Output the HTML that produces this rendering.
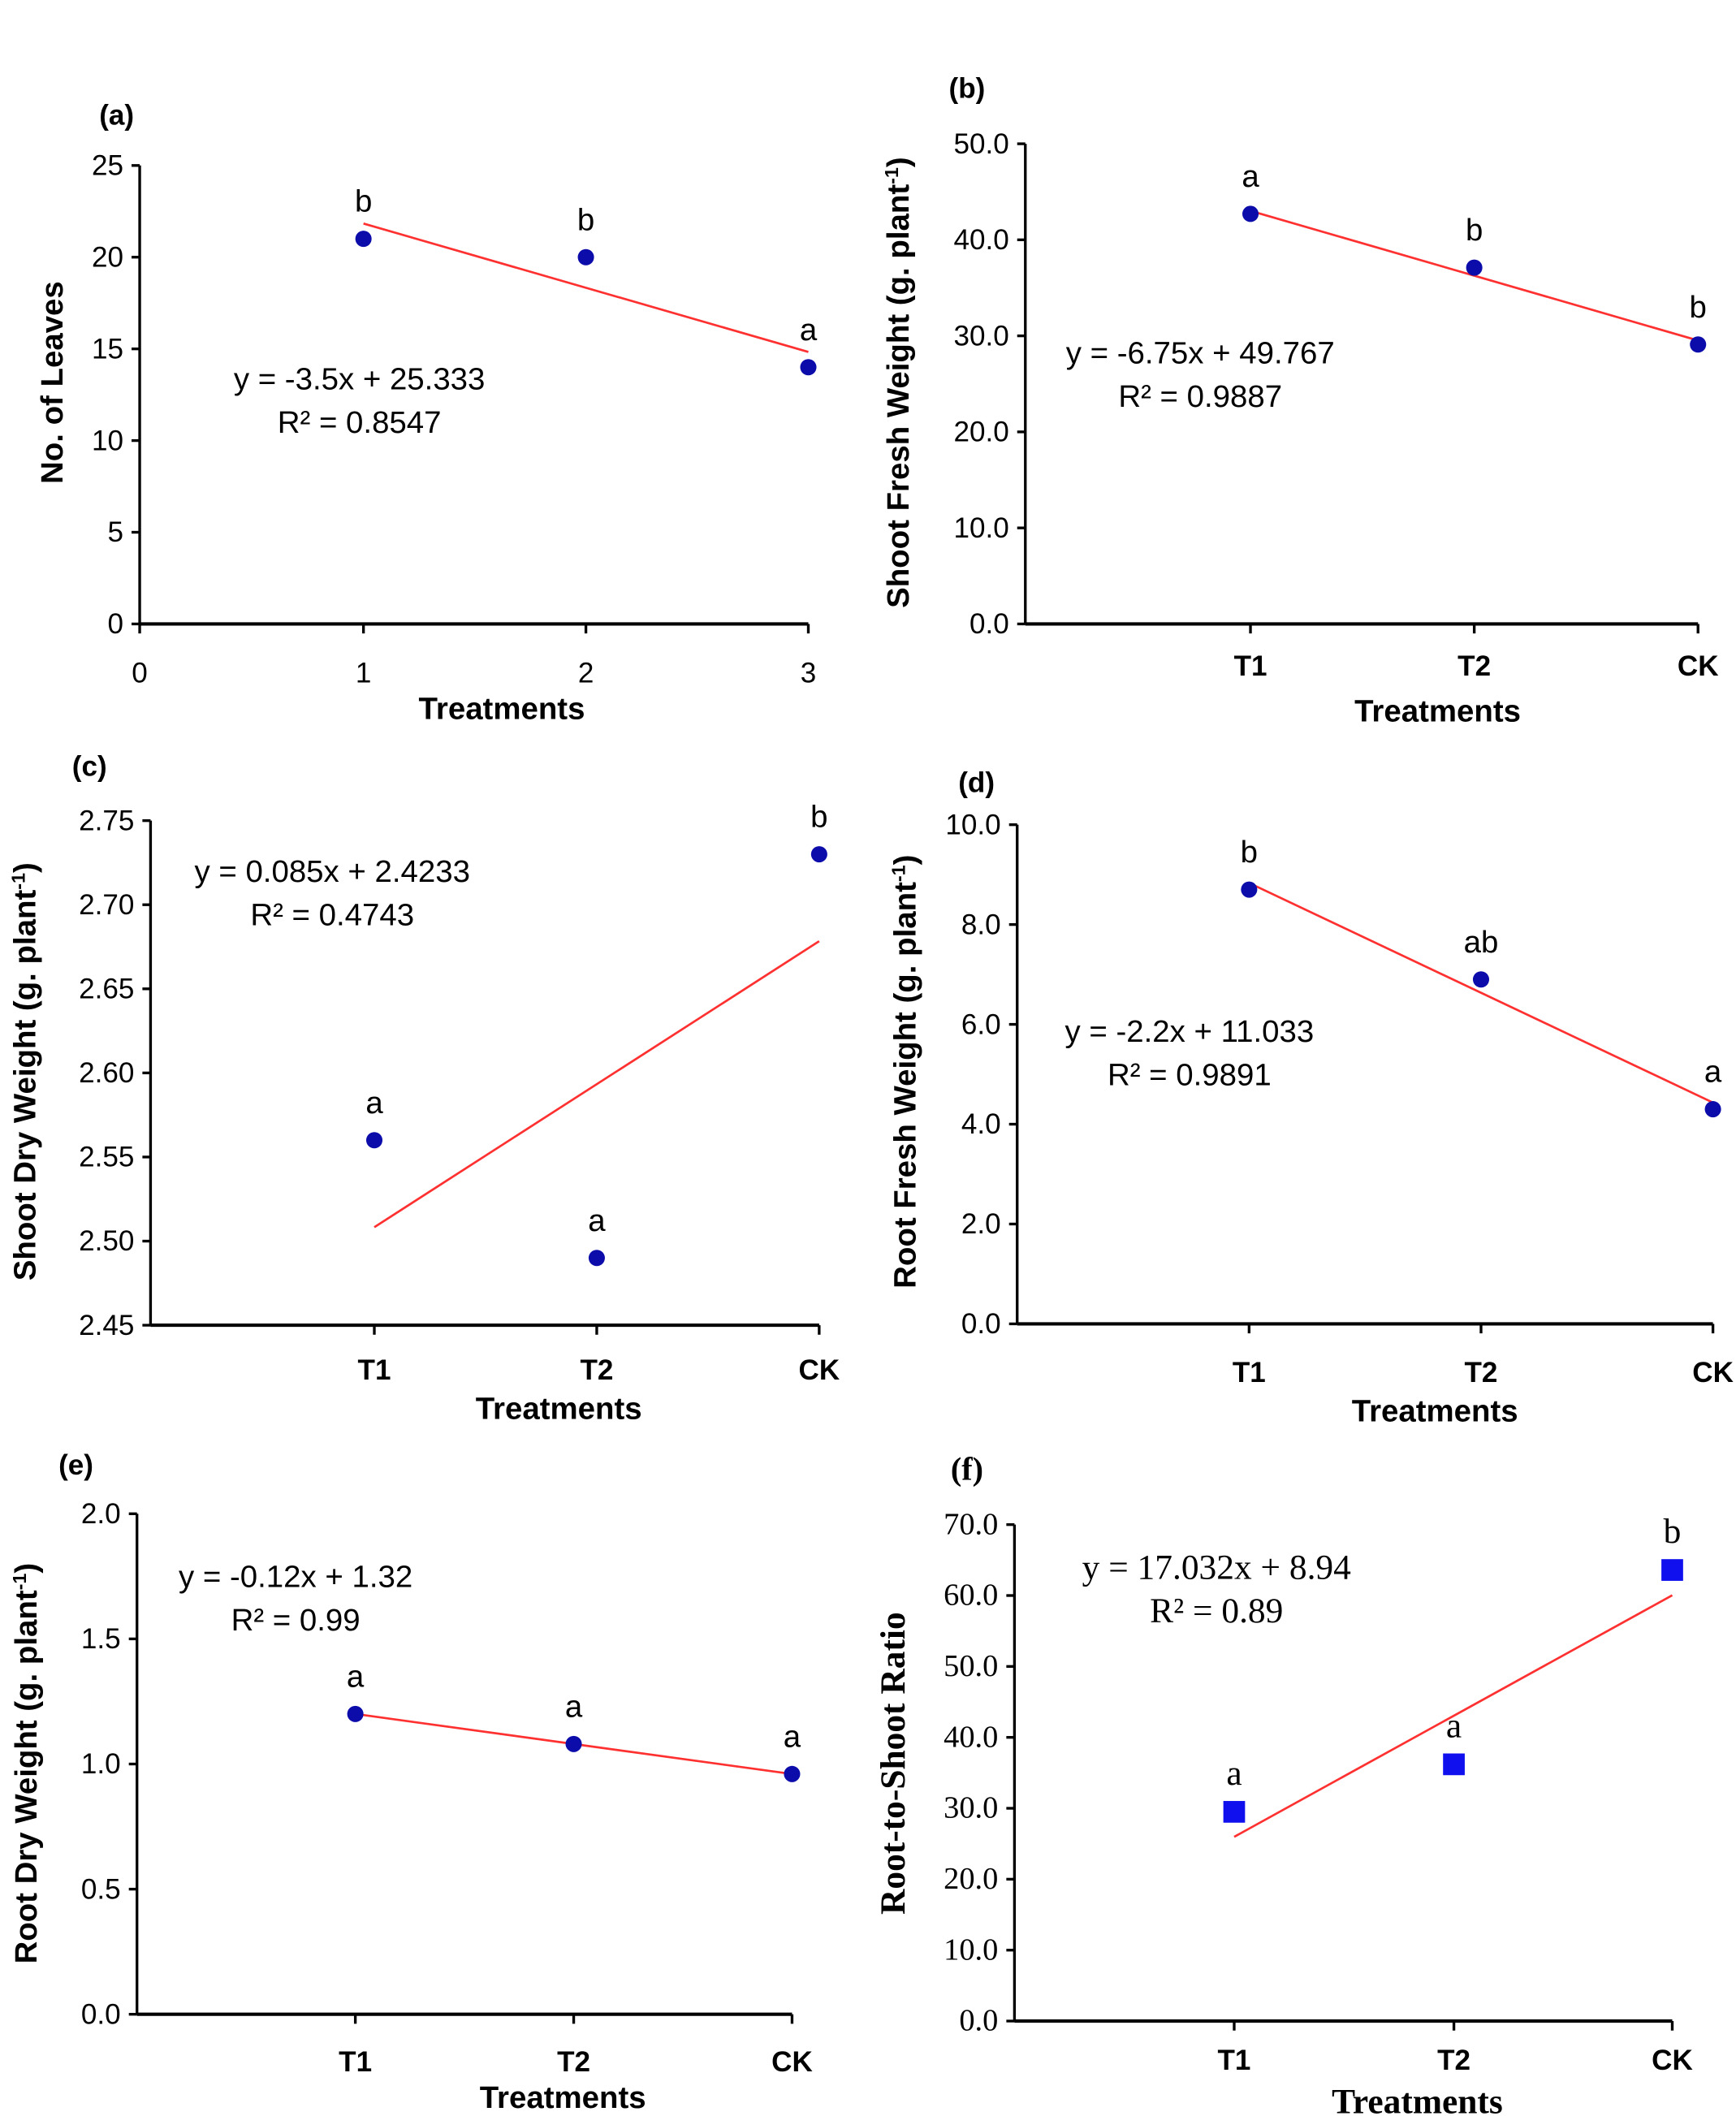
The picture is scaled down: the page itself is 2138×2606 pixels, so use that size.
<!DOCTYPE html>
<html><head><meta charset="utf-8"><style>
html,body{margin:0;padding:0;background:#fff}
svg{display:block}
</style></head><body>
<svg id="fig" width="2138" height="2606" viewBox="0 0 1280 1560" preserveAspectRatio="none" xmlns="http://www.w3.org/2000/svg"></svg>
<script>
// Panel data
const catsA = [1, 2, 3];
const valsA = [21, 20, 14];
const letA = ['b', 'b', 'a'];
const ticksA = [0, 5, 10, 15, 20, 25];
const xTicksA = ['0', '1', '2', '3'];
const fitA = [-3.5, 25.333];

const catsB = ['T1', 'T2', 'CK'];
const valsB = [42.7, 37.1, 29.1];
const letB = ['a', 'b', 'b'];
const ticksB = [0, 10, 20, 30, 40, 50];
const fitB = [-6.75, 49.767];

const catsC = ['T1', 'T2', 'CK'];
const valsC = [2.56, 2.49, 2.73];
const letC = ['a', 'a', 'b'];
const ticksC = [2.45, 2.50, 2.55, 2.60, 2.65, 2.70, 2.75];
const fitC = [0.085, 2.4233];

const catsD = ['T1', 'T2', 'CK'];
const valsD = [8.7, 6.9, 4.3];
const letD = ['b', 'ab', 'a'];
const ticksD = [0, 2, 4, 6, 8, 10];
const fitD = [-2.2, 11.033];

const catsE = ['T1', 'T2', 'CK'];
const valsE = [1.2, 1.08, 0.96];
const letE = ['a', 'a', 'a'];
const ticksE = [0, 0.5, 1.0, 1.5, 2.0];
const fitE = [-0.12, 1.32];

const catsF = ['T1', 'T2', 'CK'];
const valsF = [29.5, 36.2, 63.6];
const letF = ['a', 'a', 'b'];
const ticksF = [0, 10, 20, 30, 40, 50, 60, 70];
const fitF = [17.032, 8.94];

const NS = 'http://www.w3.org/2000/svg';
const svg = document.getElementById('fig');
function el(tag, attrs, parent, text) {
  const e = document.createElementNS(NS, tag);
  for (const k in attrs) e.setAttribute(k, attrs[k]);
  if (text !== undefined) e.textContent = text;
  (parent || svg).appendChild(e);
  return e;
}
const SANS = '"Liberation Sans", Arial, sans-serif';
const SERIF = '"Liberation Serif", "Times New Roman", serif';

function panel(o) {
  const g = el('g', {});
  
  
  const yMin = o.ticks[0], yMax = o.ticks[o.ticks.length - 1];
  const ys = v => o.bottom - (v - yMin) / (yMax - yMin) * (o.bottom - o.top);
  const xs = i => o.xPos[i];
  const font = o.serif ? SERIF : SANS;
  const fs = o.serif ? 25 : 22;
  const ya = el('line', {x1: o.x0, y1: o.top, x2: o.x0, y2: o.bottom, stroke: '#000', 'stroke-width': 2}, g);
  
  
  const xa = el('line', {x1: o.x0, y1: o.bottom, x2: o.xEnd, y2: o.bottom, stroke: '#000', 'stroke-width': 2.5}, g);
  
  
  o.ticks.forEach(t => {
    const y = ys(t);
    el('line', {x1: o.x0 - 6, y1: y, x2: o.x0, y2: y, stroke: '#000', 'stroke-width': 2}, g);
    const tl = el('text', {x: o.x0 - 12, y: y + 7, 'text-anchor': 'end', 'font-family': font, 'font-size': o.serif ? 23 : 21}, g, t.toFixed(o.dec));
    
    
  });
  o.xTickPos.forEach((x, i) => {
    el('line', {x1: x, y1: o.bottom, x2: x, y2: o.bottom + 7, stroke: '#000', 'stroke-width': 2}, g);
    const xl = el('text', {x: x, y: o.xLabY, 'text-anchor': 'middle', 'font-family': SANS, 'font-size': 21, 'font-weight': o.boldX ? 'bold' : 'normal'}, g, o.xLabels[i]);
    
    
  });
  const n = o.vals.length;
  const tr = el('line', {x1: xs(0), y1: ys(o.fit[0] * 1 + o.fit[1]), x2: xs(n - 1), y2: ys(o.fit[0] * n + o.fit[1]), stroke: '#ff3030', 'stroke-width': 1.6}, g);
  
  
  o.vals.forEach((v, i) => {
    let p;
    if (o.square) p = el('rect', {x: xs(i) - 8, y: ys(v) - 8, width: 16, height: 16, fill: '#1010ee'}, g);
    else p = el('circle', {cx: xs(i), cy: ys(v), r: 6, fill: '#0c0caa'}, g);
    
    
    const lt = el('text', {x: xs(i), y: ys(v) - 20, 'text-anchor': 'middle', 'font-family': font, 'font-size': fs + 1}, g, o.letters[i]);
    
    
  });
  const eq = el('text', {x: o.eq[0], y: o.eq[1], 'text-anchor': 'middle', 'font-family': font, 'font-size': fs + 1}, g, o.eqText);
  
  
  const r2 = el('text', {x: o.eq[0], y: o.eq[1] + 32, 'text-anchor': 'middle', 'font-family': font, 'font-size': fs + 1}, g, o.r2Text);
  
  
  const xt = el('text', {x: o.xTitle[0], y: o.xTitle[1], 'text-anchor': 'middle', 'font-family': font, 'font-size': fs + 1, 'font-weight': 'bold'}, g, 'Treatments');
  
  
  const yt = el('text', {x: 0, y: 0, transform: 'translate(' + o.yTitle[0] + ',' + o.yTitle[1] + ') rotate(-90)', 'text-anchor': 'middle', 'font-family': font, 'font-size': fs + 1, 'font-weight': 'bold'}, g);
  
  
  if (o.yTitleSup) {
    el('tspan', {}, yt, o.yTitleText);
    el('tspan', {'baseline-shift': 'super', 'font-size': 14}, yt, '-1');
    el('tspan', {}, yt, ')');
  } else yt.textContent = o.yTitleText;
  const pl = el('text', {x: o.lab[0], y: o.lab[1], 'text-anchor': 'middle', 'font-family': font, 'font-size': o.serif ? 24 : 21, 'font-weight': 'bold'}, g, '(' + o.id + ')');
  
  
}

panel({id: 'a', x0: 103, xEnd: 596, top: 122, bottom: 460, ticks: ticksA, dec: 0,
  xPos: [268, 432, 596], xTickPos: [103, 268, 432, 596], xLabels: xTicksA, boldX: false, xLabY: 503,
  vals: valsA, letters: letA, fit: fitA, eq: [265, 287], eqText: 'y = -3.5x + 25.333', r2Text: 'R² = 0.8547',
  xTitle: [370, 530], yTitle: [46, 282], yTitleText: 'No. of Leaves', lab: [86, 92]});
panel({id: 'b', x0: 756, xEnd: 1252, top: 106, bottom: 460, ticks: ticksB, dec: 1,
  xPos: [922, 1087, 1252], xTickPos: [922, 1087, 1252], xLabels: catsB, boldX: true, xLabY: 498,
  vals: valsB, letters: letB, fit: fitB, eq: [885, 268], eqText: 'y = -6.75x + 49.767', r2Text: 'R² = 0.9887',
  xTitle: [1060, 532], yTitle: [670, 282], yTitleText: 'Shoot Fresh Weight (g. plant', yTitleSup: true, lab: [713, 72]});
panel({id: 'c', x0: 111, xEnd: 604, top: 605, bottom: 977, ticks: ticksC, dec: 2,
  xPos: [276, 440, 604], xTickPos: [276, 440, 604], xLabels: catsC, boldX: true, xLabY: 1017,
  vals: valsC, letters: letC, fit: fitC, eq: [245, 650], eqText: 'y = 0.085x + 2.4233', r2Text: 'R² = 0.4743',
  xTitle: [412, 1046], yTitle: [26, 790], yTitleText: 'Shoot Dry Weight (g. plant', yTitleSup: true, lab: [66, 572]});
panel({id: 'd', x0: 750, xEnd: 1263, top: 608, bottom: 976, ticks: ticksD, dec: 1,
  xPos: [921, 1092, 1263], xTickPos: [921, 1092, 1263], xLabels: catsD, boldX: true, xLabY: 1019,
  vals: valsD, letters: letD, fit: fitD, eq: [877, 768], eqText: 'y = -2.2x + 11.033', r2Text: 'R² = 0.9891',
  xTitle: [1058, 1048], yTitle: [675, 790], yTitleText: 'Root Fresh Weight (g. plant', yTitleSup: true, lab: [720, 584]});
panel({id: 'e', x0: 101, xEnd: 584, top: 1116, bottom: 1485, ticks: ticksE, dec: 1,
  xPos: [262, 423, 584], xTickPos: [262, 423, 584], xLabels: catsE, boldX: true, xLabY: 1527,
  vals: valsE, letters: letE, fit: fitE, eq: [218, 1170], eqText: 'y = -0.12x + 1.32', r2Text: 'R² = 0.99',
  xTitle: [415, 1554], yTitle: [27, 1300], yTitleText: 'Root Dry Weight (g. plant', yTitleSup: true, lab: [56, 1087]});
panel({id: 'f', x0: 748, xEnd: 1233, top: 1124, bottom: 1490, ticks: ticksF, dec: 1, serif: true, square: true,
  xPos: [910, 1072, 1233], xTickPos: [910, 1072, 1233], xLabels: catsF, boldX: true, xLabY: 1526,
  vals: valsF, letters: letF, fit: fitF, eq: [897, 1164], eqText: 'y = 17.032x + 8.94', r2Text: 'R² = 0.89',
  xTitle: [1045, 1558], yTitle: [667, 1300], yTitleText: 'Root-to-Shoot Ratio', lab: [713, 1091]});
</script>
</body></html>
